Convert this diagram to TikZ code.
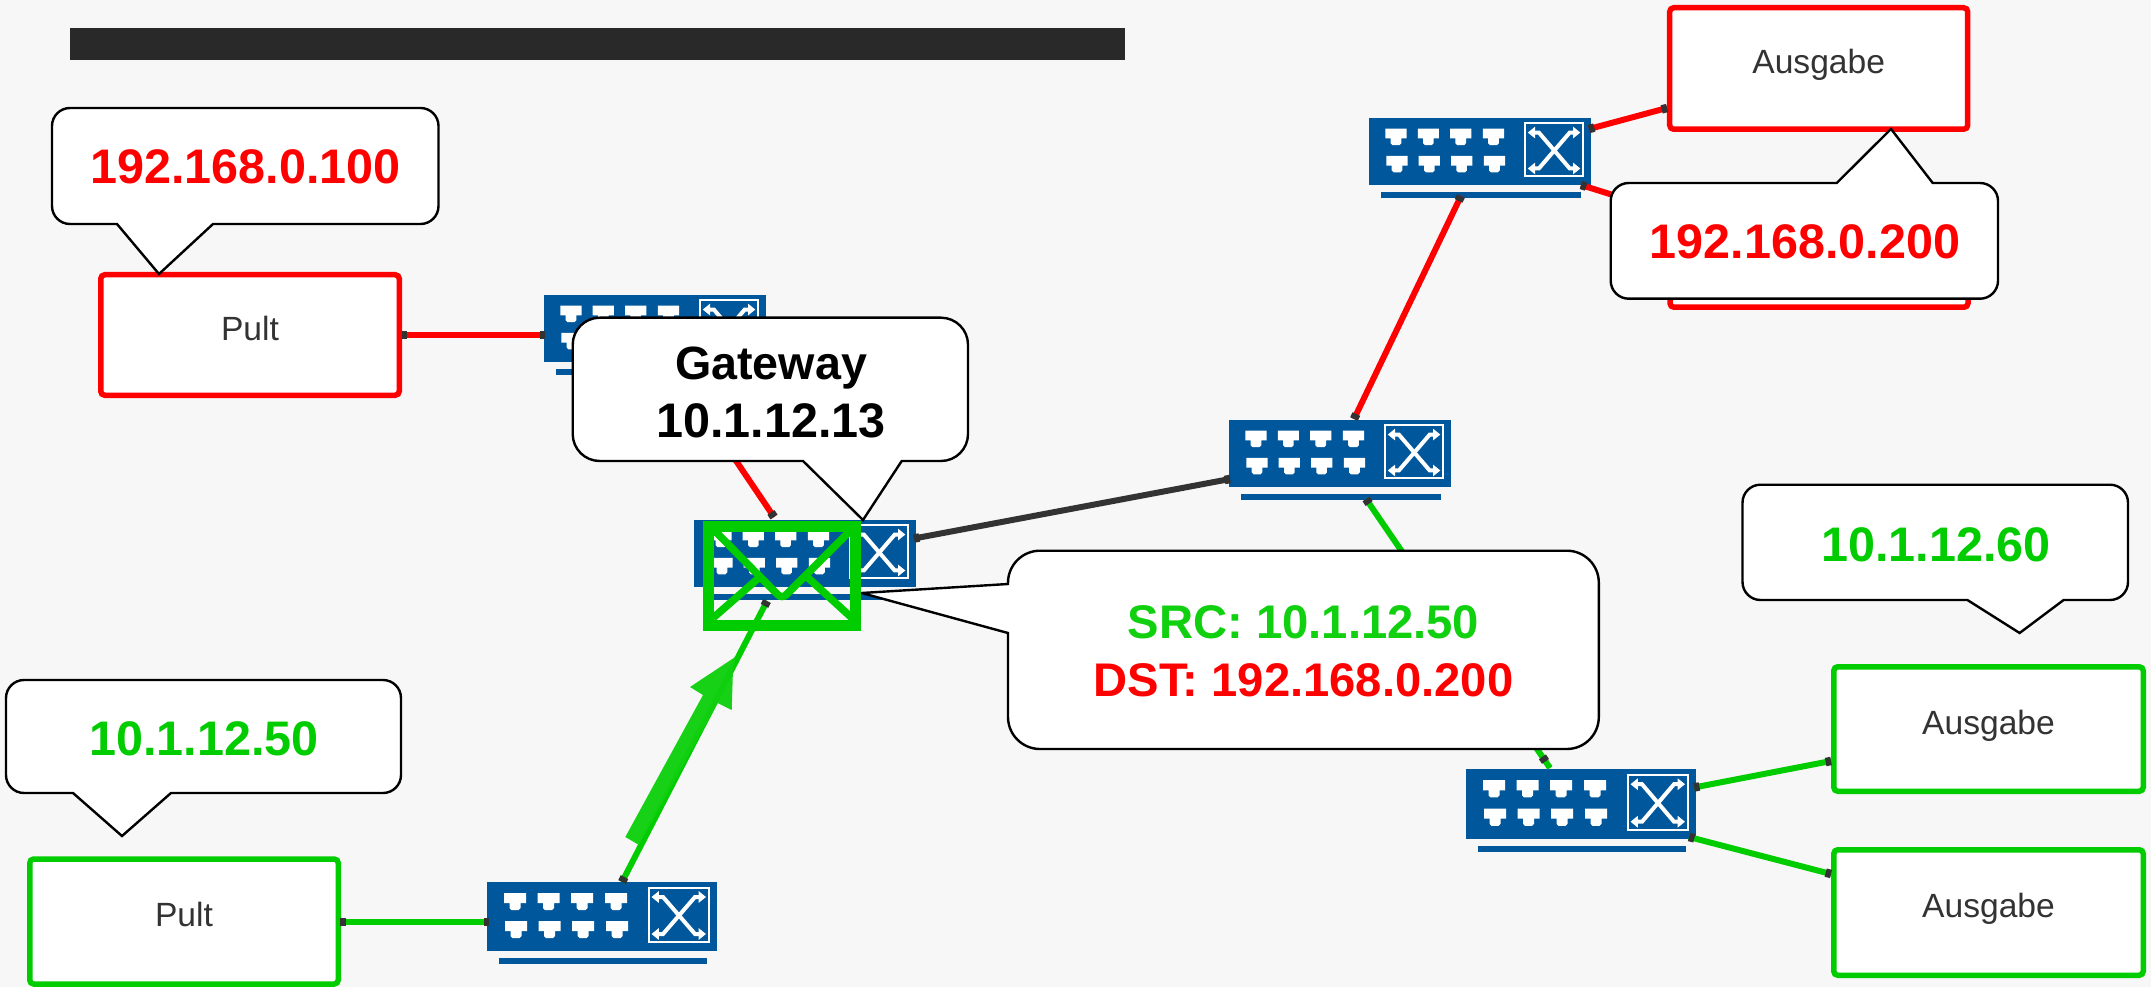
\documentclass[tikz,border=0pt]{standalone}
\usepackage{fontspec}
\setmainfont{Liberation Sans}
\usetikzlibrary{calc,arrows.meta}
\newlength{\upx}\setlength{\upx}{0.75pt}
\definecolor{bgc}{HTML}{F7F7F7}
\definecolor{barc}{HTML}{292929}
\definecolor{ured}{HTML}{FF0000}
\definecolor{ugreen}{HTML}{00CC00}
\definecolor{lgreen}{HTML}{10D010}
\definecolor{swblue}{HTML}{00579C}
\definecolor{dark}{HTML}{333333}
\tikzset{
  devbox/.style={draw,fill=white,line width=5.5\upx,rounded corners=4\upx,inner sep=0pt,outer sep=0pt,
    text=dark,text height=20\upx,text depth=10\upx,font=\fontsize{25.2pt}{30pt}\selectfont},
  swbody/.style={fill=swblue,anchor=north west,inner sep=0pt,outer sep=0pt,minimum height=#1\upx},
  wire/.style={line width=6\upx},
  portmark/.style={line width=8.5\upx,draw=dark},
  callout/.style={draw=black,fill=white,line width=2.4\upx,line join=miter},
  calltext/.style={font=\fontsize{36.4pt}{43.5pt}\selectfont\bfseries,inner sep=0pt,outer sep=0pt,anchor=base},
}
\newcommand{\swicon}[3]{%
  \begin{scope}[shift={(#1.north west)},xscale=#2,yscale=#3]
    \fill[swblue] (12,76) rectangle (220,82);
    \foreach \ax/\ay in {28/11,61.5/11,95/11,129/11,29/39,62.5/39,96/39,130/39}{
      \fill[white,shift={(\ax,\ay)}] (-11,0) -- (11,0) -- (11,10) -- (5.5,10) -- (5.5,15) -- (3.5,17) -- (-3.5,17) -- (-5.5,15) -- (-5.5,10) -- (-11,10) -- cycle;
    }
    \draw[white,line width=2\upx] (161.5,5.5) rectangle (221.5,60);
    \draw[white,line width=4\upx,{Triangle[length=5.5pt,width=8.5pt]}-{Triangle[length=5.5pt,width=8.5pt]}] (164.5,15) -- (176,15) -- (208,52) -- (219,52);
    \draw[white,line width=4\upx,{Triangle[length=5.5pt,width=8.5pt]}-{Triangle[length=5.5pt,width=8.5pt]}] (164.5,52) -- (176,52) -- (208,15) -- (219,15);
  \end{scope}}
\newcommand{\pmark}[2]{\draw[portmark] (#1) -- ($(#1)!5.5\upx!(#2)$);}
\begin{document}
\begin{tikzpicture}[x=0.75pt,y=-0.75pt]
\useasboundingbox (0,0) rectangle (2151,987);
\fill[bgc] (0,0) rectangle (2151,987);
\fill[barc] (70,28) rectangle (1125,60);

% devices
\node[devbox,draw=ured,minimum width=298.5\upx,minimum height=120.5\upx] (pultR) at (250,335) {Pult};
\node[devbox,draw=ugreen,minimum width=308.5\upx,minimum height=125\upx] (pultG) at (184,921.5) {Pult};
\node[devbox,draw=ured,minimum width=298\upx,minimum height=121.5\upx] (ausR1) at (1818.7,68.5) {Ausgabe};
\node[devbox,draw=ured,minimum width=298\upx,minimum height=121.5\upx] (ausR2) at (1819,246.5) {};
\node[devbox,draw=ugreen,minimum width=309.5\upx,minimum height=124.5\upx] (ausG1) at (1988.5,729) {Ausgabe};
\node[devbox,draw=ugreen,minimum width=309.5\upx,minimum height=125.5\upx] (ausG2) at (1988.5,912.5) {Ausgabe};

% switches
\node[swbody=67,minimum width=222\upx] (s1) at (544,295) {};
\node[swbody=67,minimum width=222\upx] (s2) at (694,520) {};
\node[swbody=67,minimum width=222\upx] (s3) at (1229,420) {};
\node[swbody=67,minimum width=222\upx] (s4) at (1369,118) {};
\node[swbody=69,minimum width=230\upx] (s5) at (487,882) {};
\node[swbody=70,minimum width=230\upx] (s6) at (1466,769) {};
\swicon{s1}{0.965}{0.971}
\swicon{s2}{0.965}{0.971}
\swicon{s3}{0.965}{0.971}
\swicon{s4}{0.965}{0.971}
\swicon{s5}{1}{1}
\swicon{s6}{1}{1.014}

% ports
\coordinate (pRe) at (401.5,335);
\coordinate (s1w) at (545,335);
\coordinate (s1s) at (672,366);
\coordinate (s2n) at (774,517);
\coordinate (s2e) at (914,538.5);
\coordinate (s3w) at (1230,479);
\coordinate (s3n) at (1354,419);
\coordinate (s4s) at (1461,196);
\coordinate (s4e) at (1589,129);
\coordinate (aR1) at (1667,108);
\coordinate (s4b) at (1581,185);
\coordinate (aR2) at (1667,212);
\coordinate (s3s) at (1366,499);
\coordinate (s6n) at (1550,768);
\coordinate (s6e) at (1694,787.5);
\coordinate (aG1) at (1831,761);
\coordinate (s6b) at (1689,837);
\coordinate (aG2) at (1831,874);
\coordinate (pGe) at (340,922);
\coordinate (s5w) at (489,922);
\coordinate (s5n) at (622,882);
\coordinate (s2s) at (767,601);

% connectors
\draw[wire,draw=ured] (pRe) -- (s1w);
\draw[wire,draw=ured] (s1s) -- (s2n);
\draw[wire,draw=dark] (s2e) -- (s3w);
\draw[wire,draw=ured] (s3n) -- (s4s);
\draw[wire,draw=ured] (s4e) -- (aR1);
\draw[wire,draw=ured] (s4b) -- (aR2);
\draw[wire,draw=ugreen] (s3s) -- (s6n);
\draw[wire,draw=ugreen] (s6e) -- (aG1);
\draw[wire,draw=ugreen] (s6b) -- (aG2);
\draw[wire,draw=ugreen] (pGe) -- (s5w);
\draw[wire,draw=ugreen] (s5n) -- (s2s);

% port marks
\pmark{pRe}{s1w}\pmark{s1w}{pRe}\pmark{s2n}{s1s}\pmark{s2e}{s3w}\pmark{s3w}{s2e}
\pmark{s3n}{s4s}\pmark{s4s}{s3n}\pmark{s4e}{aR1}\pmark{aR1}{s4e}\pmark{s4b}{aR2}
\pmark{s3s}{s6n}
\draw[portmark] ($(s6n)!8\upx!(s3s)$) -- ($(s6n)!13.5\upx!(s3s)$);
\pmark{s6e}{aG1}\pmark{aG1}{s6e}\pmark{s6b}{aG2}\pmark{aG2}{s6b}
\pmark{pGe}{s5w}\pmark{s5w}{pGe}\pmark{s5n}{s2s}\pmark{s2s}{s5n}

% traffic arrow
\fill[lgreen,fill opacity=0.97] (625.3,837) -- (639,845) -- (717.7,703) -- (731.7,710) -- (733,669) -- (735.7,656.7) -- (690,687) -- (703,695) -- cycle;

% callouts
\draw[callout] (117,224) -- (159,274) -- (213,224) [rounded corners=18\upx] -- (438.5,224) -- (438.5,108) -- (52,108) -- (52,224) [sharp corners] -- cycle;
\draw[callout] (73,793) -- (122,836) -- (171,793) [rounded corners=18\upx] -- (401,793) -- (401,680) -- (6,680) -- (6,793) [sharp corners] -- cycle;
\draw[callout] (1967.4,600) -- (2019.6,633) -- (2063.6,600) [rounded corners=18\upx] -- (2128,600) -- (2128,484.7) -- (1742.5,484.7) -- (1742.5,600) [sharp corners] -- cycle;
\draw[callout] (1836.7,183) -- (1891,129) -- (1932.7,183) [rounded corners=18\upx] -- (1998,183) -- (1998,298.7) -- (1610.7,298.7) -- (1610.7,183) [sharp corners] -- cycle;
\draw[callout] (803,461) -- (863,520) -- (901.7,461) [rounded corners=27\upx] -- (968,461) -- (968,317.7) -- (572.7,317.7) -- (572.7,461) [sharp corners] -- cycle;
\draw[callout] (1008,584) -- (861.7,593) -- (1008,633) [rounded corners=32\upx] -- (1008,749) -- (1598.8,749) -- (1598.8,550.7) -- (1008,550.7) [sharp corners] -- cycle;

% callout texts
\node[calltext,text=ured] (t1) at (245.5,184) {192.168.0.100};
\node[calltext,text=ugreen] (t2) at (204,755) {10.1.12.50};
\node[calltext,text=ugreen] (t3) at (1936,561) {10.1.12.60};
\node[calltext,text=ured] (t4) at (1805,259) {192.168.0.200};
\node[calltext,text=black,anchor=center,align=center] (t5) at (771,392) {{\fontsize{35pt}{43.5pt}\selectfont Gateway}\\10.1.12.13};
\node[calltext,font=\fontsize{35.4pt}{43.5pt}\selectfont\bfseries,anchor=center,align=center] (t6) at (1303.5,651) {\textcolor{lgreen}{SRC: 10.1.12.50}\\\textcolor{ured}{DST: 192.168.0.200}};

% envelope
\draw[ugreen,line width=11\upx,line join=miter] (708.5,526.5) rectangle (855.5,625.5);
\draw[ugreen,line width=7.5\upx,rounded corners=6\upx] (715,531) -- (782,599) -- (850,531);
\draw[ugreen,line width=7.5\upx] (713,618) -- (761,576);
\draw[ugreen,line width=7.5\upx] (852,618) -- (806,576);
\end{tikzpicture}
\end{document}
